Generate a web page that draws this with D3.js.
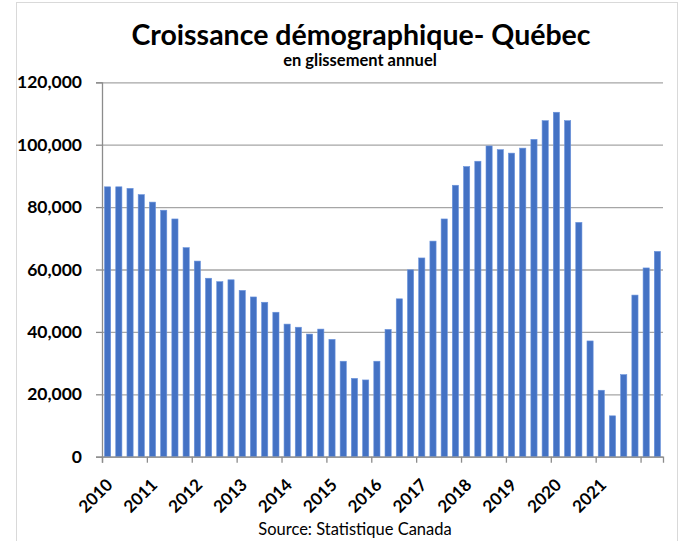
<!DOCTYPE html>
<html lang="fr">
<head>
    <meta charset="UTF-8">
    <title>Croissance démographique- Québec</title>
    <script src="https://d3js.org/d3.v7.min.js"></script>
    <style>
        body { margin: 0; background: #fff; }
        svg { font-family: Lato, "Open Sans", sans-serif; }
        .bar { fill: #4472C4; stroke: #6a93dc; stroke-width: 0.6; }
    </style>
</head>
<body>
    <svg id="chart" width="681" height="541"></svg>
    <script>
        // Croissance démographique trimestrielle, 2010T1 - 2022T2
        const quarters = d3.range(50);
        const values = [
            86500, 86500, 86000, 84000, 81600, 79000, 76200, 67000,
            62700, 57200, 56100, 56700, 53300, 51200, 49500, 46300,
            42500, 41500, 39300, 40900, 37600, 30600, 25100, 24600,
            30600, 40800, 50600, 59900, 63700, 69100, 76200, 87000,
            93000, 94700, 99600, 98400, 97300, 98900, 101700, 107700,
            110400, 107700, 75100, 37100, 21300, 13100, 26300, 51800,
            60500, 65800
        ];
        const yearLabels = ['2010', '2011', '2012', '2013', '2014', '2015',
            '2016', '2017', '2018', '2019', '2020', '2021', ''];
        const yTicks = [0, 20000, 40000, 60000, 80000, 100000, 120000];

        const width = 681;
        const height = 541;
        const margin = { top: 82.3, right: 18, bottom: 84.3, left: 102 };

        const svg = d3.select('#chart');

        // cadre du graphique
        svg.append('rect')
            .attr('x', 16.5).attr('y', 2.5)
            .attr('width', 661).attr('height', 580)
            .attr('fill', 'none')
            .attr('stroke', '#d9d9d9');

        const x = d3.scaleBand()
            .domain(quarters)
            .range([margin.left, width - margin.right])
            .paddingInner(0.45)
            .paddingOuter(0.225);

        // echelle continue pour placer les graduations annuelles
        const xq = d3.scaleLinear()
            .domain([0, quarters.length])
            .range([margin.left, width - margin.right]);

        const y = d3.scaleLinear()
            .domain([0, 120000])
            .range([height - margin.bottom, margin.top]);

        // grille
        svg.append('g')
            .attr('transform', `translate(${margin.left},0)`)
            .call(d3.axisLeft(y).tickValues(yTicks).tickSize(-(width - margin.right - margin.left)).tickFormat(''))
            .call(g => g.select('.domain').remove())
            .call(g => g.selectAll('line').attr('stroke', '#a6a6a6').attr('stroke-width', 1.3));

        // barres
        svg.selectAll('.bar')
            .data(values)
            .join('rect')
            .attr('class', 'bar')
            .attr('x', (d, i) => x(i))
            .attr('y', d => y(d))
            .attr('width', x.bandwidth())
            .attr('height', d => y(0) - y(d));

        // axe Y
        svg.append('g')
            .attr('transform', `translate(${margin.left},0)`)
            .call(d3.axisLeft(y).tickValues(yTicks).tickSize(6).tickPadding(14).tickFormat(d3.format(',')))
            .call(g => g.select('.domain').attr('stroke', '#8c8c8c').attr('stroke-width', 1.3))
            .call(g => g.selectAll('line').attr('stroke', '#8c8c8c').attr('stroke-width', 1.3))
            .call(g => g.selectAll('text')
                .attr('fill', '#000')
                .attr('font-size', 17.5)
                .attr('font-weight', 'bold')
                .attr('font-family', 'Lato, sans-serif'));

        // axe X
        svg.append('g')
            .attr('transform', `translate(0,${height - margin.bottom})`)
            .call(d3.axisBottom(xq).tickValues(d3.range(0, 49, 4)).tickSize(6)
                .tickFormat((d, i) => yearLabels[i]))
            .call(g => g.select('.domain').attr('stroke', '#8c8c8c').attr('stroke-width', 1.3))
            .call(g => g.selectAll('line').attr('stroke', '#8c8c8c').attr('stroke-width', 1.3))
            .call(g => g.selectAll('text')
                .attr('fill', '#000')
                .attr('font-size', 17)
                .attr('font-weight', 'bold')
                .attr('font-family', 'Lato, sans-serif')
                .attr('text-anchor', 'end')
                .attr('dy', '0.35em')
                .attr('y', 0)
                .attr('transform', 'translate(7,25) rotate(-45)'));

        // titres
        svg.append('text')
            .attr('x', 361)
            .attr('y', 45)
            .attr('text-anchor', 'middle')
            .attr('font-size', 28.5)
            .attr('font-weight', 'bold')
            .text('Croissance démographique- Québec');

        svg.append('text')
            .attr('x', 360)
            .attr('y', 66)
            .attr('text-anchor', 'middle')
            .attr('font-size', 16.5)
            .attr('font-weight', 'bold')
            .text('en glissement annuel');

        svg.append('text')
            .attr('x', 355)
            .attr('y', 535)
            .attr('text-anchor', 'middle')
            .attr('font-size', 16.5)
            .text('Source: Statistique Canada');
    </script>
</body>
</html>
